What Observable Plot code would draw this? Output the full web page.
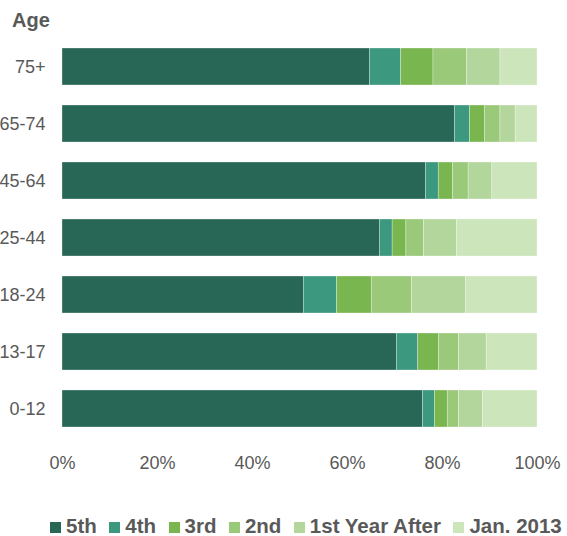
<!DOCTYPE html>
<html>
<head>
<meta charset="utf-8">
<script src="https://cdn.jsdelivr.net/npm/d3@7"></script>
<script src="https://cdn.jsdelivr.net/npm/@observablehq/plot@0.6"></script>
<style>
  html, body { margin: 0; padding: 0; background: #fff; }
  #wrap { position: relative; width: 567px; height: 536px; overflow: hidden; font-family: "Liberation Sans", Arial, sans-serif; }
  #title { position: absolute; left: 12px; top: 9px; font-weight: bold; font-size: 20px; line-height: 1.15; color: #595959; }
  #chart { position: absolute; left: 0; top: 0; }
  #legend { position: absolute; left: 50px; top: 517px; white-space: nowrap; font-weight: bold; font-size: 20.5px; line-height: 17px; color: #595959; }
  #legend .item { display: inline-block; margin-right: 12.5px; }
  #legend .item:last-child { margin-right: 0; }
  #legend .sw { width: 11px; height: 11px; display: inline-block; vertical-align: baseline; margin-right: 5px; }
</style>
</head>
<body>
<div id="wrap">
  <div id="chart"></div>
  <div id="title">Age</div>
  <div id="legend"></div>
</div>
<script>
const ages = ["75+", "65-74", "45-64", "25-44", "18-24", "13-17", "0-12"];
const series = ["5th", "4th", "3rd", "2nd", "1st Year After", "Jan. 2013"];
const colors = ["#286756", "#3d9880", "#7ab650", "#9bc97a", "#b3d69c", "#cce5bb"];
const fifth = [64.7, 82.6, 76.5, 66.8, 50.8, 70.4, 75.9];
const fourth = [6.6, 3.2, 2.7, 2.7, 7.0, 4.5, 2.5];
const third = [6.8, 3.1, 3.0, 2.9, 7.3, 4.4, 2.7];
const second = [7.1, 3.3, 3.3, 3.7, 8.5, 4.2, 2.4];
const firstYear = [7.0, 3.2, 5.0, 6.9, 11.3, 5.8, 5.0];
const jan2013 = [7.8, 4.6, 9.5, 17.0, 15.1, 10.7, 11.5];
const xTicks = [0, 20, 40, 60, 80, 100];

const seriesValues = [fifth, fourth, third, second, firstYear, jan2013];
const data = [];
series.forEach((s, si) => {
  ages.forEach((a, ai) => data.push({age: a, series: s, value: seriesValues[si][ai]}));
});

const chart = Plot.plot({
  width: 567,
  height: 480,
  marginLeft: 62,
  marginRight: 30,
  marginTop: 26,
  marginBottom: 30,
  style: {fontFamily: "'Liberation Sans', Arial, sans-serif", fontSize: "18px", color: "#595959", background: "#fff", overflow: "visible"},
  x: {domain: [0, 100], ticks: xTicks, tickFormat: d => d + "%", tickSize: 0, tickPadding: 6, label: null},
  y: {domain: ages, padding: 0.345, tickSize: 0, tickPadding: 17, label: null},
  color: {domain: series, range: colors},
  marks: [
    Plot.barX(data, Plot.stackX({x: "value", y: "age", fill: "series", stroke: "white", strokeWidth: 0.5, strokeOpacity: 0.6}))
  ]
});
document.getElementById("chart").appendChild(chart);

const legend = document.getElementById("legend");
series.forEach((s, i) => {
  const item = document.createElement("span");
  item.className = "item";
  const sw = document.createElement("span");
  sw.className = "sw";
  sw.style.background = colors[i];
  item.appendChild(sw);
  item.appendChild(document.createTextNode(s));
  legend.appendChild(item);
});
</script>
</body>
</html>
